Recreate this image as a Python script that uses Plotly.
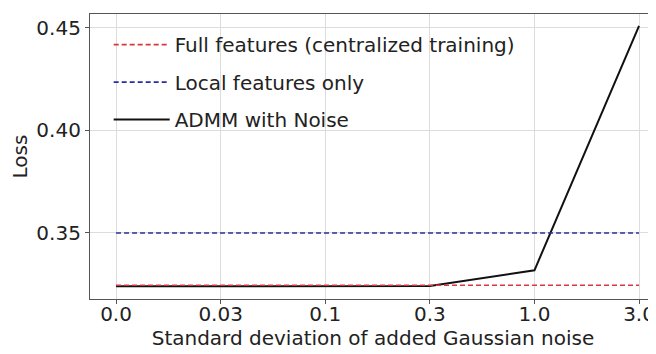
import plotly.graph_objects as go

noise_std = ["0.0", "0.03", "0.1", "0.3", "1.0", "3.0"]
full_features = [0.3245, 0.3245, 0.3245, 0.3245, 0.3245, 0.3245]
local_features = [0.350, 0.350, 0.350, 0.350, 0.350, 0.350]
admm_noise = [0.3240, 0.3240, 0.3240, 0.3241, 0.3318, 0.4510]

FONT = "DejaVu Sans"
fig = go.Figure()
fig.add_trace(go.Scatter(x=noise_std, y=admm_noise, mode="lines", name="ADMM with Noise",
                         line=dict(color="#111111", width=2), legendrank=3, legendgroup="c"))
fig.add_trace(go.Scatter(x=noise_std, y=full_features, mode="lines", name="Full features (centralized training)",
                         line=dict(color="#d9363e", width=1.6, dash="5px,3px"), legendrank=1, legendgroup="a"))
fig.add_trace(go.Scatter(x=noise_std, y=local_features, mode="lines", name="Local features only",
                         line=dict(color="#2c2ca0", width=1.6, dash="5px,3px"), legendrank=2, legendgroup="b"))

# page body has an 8px margin: figure is 648x346 placed at (8, 8)
fig.update_layout(
    width=648, height=346,
    margin=dict(l=82, r=0, t=6, b=55, autoexpand=False),
    paper_bgcolor="white", plot_bgcolor="white",
    font=dict(family=FONT, size=20, color="#222222"),
    showlegend=True,
    legend=dict(x=0.033, y=0.961, xanchor="left", yanchor="top", bgcolor="rgba(255,255,255,0)",
                borderwidth=0, font=dict(size=20), tracegroupgap=8.5, traceorder="grouped",
                itemwidth=56),
)
fig.update_xaxes(type="category", range=[-0.249, 5.162], showgrid=True, gridcolor="#dcdcdc", gridwidth=1,
                 showline=True, linecolor="#555555", linewidth=1.2, mirror=True,
                 ticks="outside", ticklen=4, tickcolor="#555555", automargin=False,
                 ticklabelstandoff=-7,
                 title=dict(text="Standard deviation of added Gaussian noise", font=dict(size=20), standoff=3),
                 zeroline=False)
fig.update_yaxes(range=[0.3178, 0.4568], tickvals=[0.35, 0.40, 0.45], ticktext=["0.35", "0.40", "0.45"],
                 showgrid=True, gridcolor="#dcdcdc", gridwidth=1,
                 showline=True, linecolor="#555555", linewidth=1.2, automargin=False,
                 ticks="outside", ticklen=4, tickcolor="#555555",
                 title=dict(text="Loss", font=dict(size=20), standoff=12), zeroline=False)

fig.write_html("out.html")
